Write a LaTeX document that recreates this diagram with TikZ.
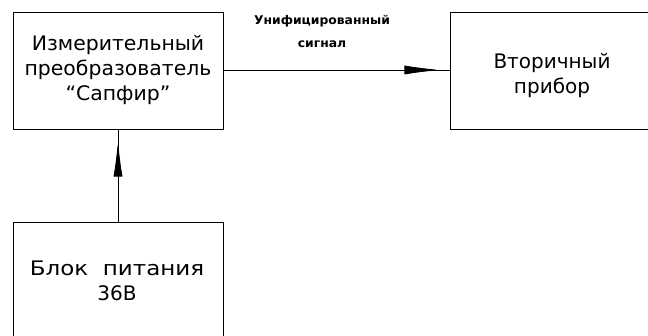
\documentclass[tikz,border=0pt]{standalone}
\usepackage{fontspec}
\setmainfont{DejaVu Sans}
\usetikzlibrary{arrows.meta,decorations.markings}
\tikzset{
  blk/.style={draw,line width=1pt,minimum width=210pt,minimum height=117pt,inner sep=0pt},
  big/.style={font=\fontsize{20}{25}\selectfont,align=center,inner sep=0pt},
  small/.style={font=\bfseries\fontsize{12}{23}\selectfont,align=center,inner sep=0pt},
  conn/.style={line width=0.8pt},
  midarrow/.style={postaction={decorate},decoration={markings,mark=at position #1 with {\arrow{Latex[length=36pt,width=9pt]}}}}
}
\begin{document}
\begin{tikzpicture}[x=1pt,y=-1pt]
\useasboundingbox (0,0) rectangle (648,336);
\clip (0,0) rectangle (648,336);
\fill[white] (0,0) rectangle (648,336);
\node[blk] (sens) at (118,71.5) {};
\node[blk] (sec) at (555,71.5) {};
\node[blk] (pow) at (118,281.5) {};
\node[big] (tsens) at (118,70) {\scalebox{1.02}[1]{Измерительный}\\\scalebox{1.02}[1]{преобразователь}\\\scalebox{1.02}[1]{“Сапфир”}};
\node[big] (tsec) at (552,75) {Вторичный\\прибор};
\node[big] (tpow) at (117,281) {\scalebox{1.15}[1]{Блок\ \ питания}\\36В};
\node[small] (lbl) at (322,32) {\scalebox{1.03}[1]{Унифицированный}\\\scalebox{1.03}[1]{сигнал}};
\draw[conn,midarrow=0.96] (sens.east |- 0,70) -- (sec.west |- 0,70);
\draw[conn,midarrow=0.89] (pow.north) -- (sens.south);
\end{tikzpicture}
\end{document}
